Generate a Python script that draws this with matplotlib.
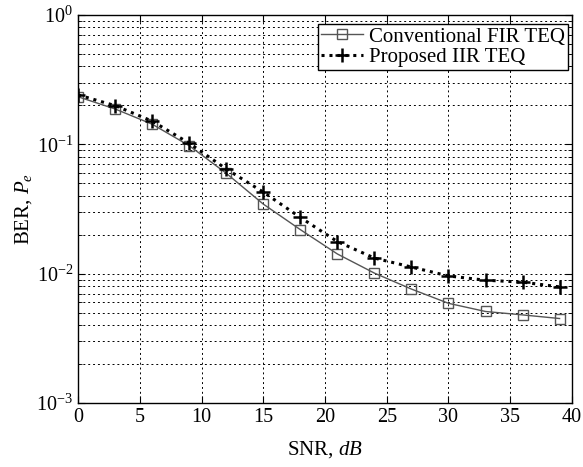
import matplotlib
matplotlib.use("Agg")
import matplotlib.pyplot as plt
from matplotlib.ticker import LogLocator, NullFormatter, MultipleLocator

plt.rcParams['font.family'] = ['Liberation Serif', 'DejaVu Serif']
plt.rcParams['mathtext.fontset'] = 'custom'
plt.rcParams['mathtext.rm'] = 'Liberation Serif'
plt.rcParams['mathtext.it'] = 'Liberation Serif:italic'

snr = [0, 3, 6, 9, 12, 15, 18, 21, 24, 27, 30, 33, 36, 39]
ber_fir = [0.233, 0.1875, 0.143, 0.0975, 0.0597, 0.0345, 0.0219, 0.0142,
           0.0101, 0.0076, 0.0059, 0.0051, 0.0048, 0.0045]
ber_iir = [0.241, 0.199, 0.151, 0.102, 0.0644, 0.0427, 0.0272, 0.0177,
           0.0132, 0.01125, 0.0096, 0.0089, 0.0086, 0.0079]

fig = plt.figure(figsize=(5.83, 4.67), dpi=100)
ax = fig.add_axes([0.134, 0.137, 0.847, 0.831])

ax.semilogy(snr, ber_fir, color='#555555', lw=1.0, marker='s', ms=7,
            mfc='none', mec='#555555', mew=1.0, label='Conventional FIR TEQ')
ax.semilogy(snr, ber_iir, color='black', lw=2.2, ls=(0, (1, 1.6)), marker='+',
            ms=10, mew=1.8, label='Proposed IIR TEQ')

ax.set_xlim(0, 40)
ax.set_ylim(1e-3, 1)
ax.xaxis.set_major_locator(MultipleLocator(5))
ax.yaxis.set_major_locator(LogLocator(base=10))
ax.yaxis.set_minor_locator(LogLocator(base=10, subs=range(2, 10)))
ax.yaxis.set_minor_formatter(NullFormatter())

ax.grid(True, which='major', ls=(0, (2, 3)), color='black', lw=0.7)
ax.grid(True, which='minor', axis='y', ls=(0, (2, 3)), color='black', lw=0.7)

ax.tick_params(which='both', direction='in', top=True, right=True,
               labelsize=14.5, colors='black')
ax.tick_params(which='major', length=5)
ax.tick_params(which='minor', length=3)
for s in ax.spines.values():
    s.set_linewidth(1.0)
    s.set_color('black')

ax.set_xlabel('SNR, $\\it{dB}$', fontsize=15, labelpad=9)
ax.set_ylabel('BER, $\\it{P_e}$', fontsize=15, labelpad=2)

leg = ax.legend(loc='upper right', bbox_to_anchor=(1 - 4 / 494, 1 - 9 / 388),
                fontsize=15, frameon=True, fancybox=False,
                edgecolor='black', framealpha=1, borderpad=0.15,
                handlelength=2.0, handletextpad=0.3, labelspacing=0.05,
                borderaxespad=0.0)
leg.get_frame().set_linewidth(1.0)

fig.savefig('out.png', dpi=100)
